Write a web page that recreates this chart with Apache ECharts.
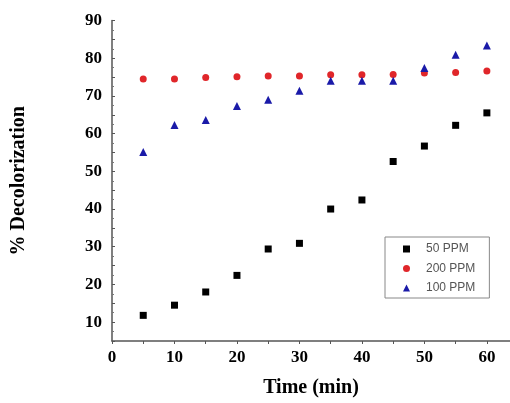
<!DOCTYPE html>
<html><head><meta charset="utf-8">
<script src="https://cdn.jsdelivr.net/npm/echarts@6/dist/echarts.min.js"></script>
<style>html,body{margin:0;padding:0;background:#fff}#c{width:510px;height:403px}</style>
</head><body><div id="c"></div>
<script>
const times = [5, 10, 15, 20, 25, 30, 35, 40, 45, 50, 55, 60];
const ppm50 = [11.8, 14.5, 18.0, 22.4, 29.4, 30.9, 40.0, 42.4, 52.6, 56.7, 62.2, 65.5];
const ppm200 = [74.5, 74.5, 74.9, 75.1, 75.3, 75.3, 75.6, 75.6, 75.7, 76.1, 76.2, 76.6];
const ppm100 = [55.1, 62.3, 63.6, 67.3, 69.0, 71.4, 74.0, 74.0, 74.0, 77.4, 80.9, 83.4];
const seriesNames = ['50 PPM', '200 PPM', '100 PPM'];
const xLabels = [0, 10, 20, 30, 40, 50, 60];
const yLabels = [10, 20, 30, 40, 50, 60, 70, 80, 90];

const pair = v => times.map((t, i) => [t, v[i]]);
const serif = '"Liberation Serif", "Times New Roman", serif';
const chart = echarts.init(document.getElementById('c'));
chart.setOption({
  animation: false,
  backgroundColor: '#fff',
  grid: { left: 112, right: 0, top: 20.5, bottom: 60, containLabel: false },
  legend: {
    left: 385, top: 237, orient: 'vertical',
    padding: [5, 14, 3, 18],
    borderColor: '#888', borderWidth: 1,
    itemWidth: 7, itemHeight: 7, itemGap: 5.5,
    textStyle: { fontFamily: '"Liberation Sans", Arial, sans-serif', fontSize: 12, color: '#555', lineHeight: 14, padding: [0, 0, 0, 11] },
    data: [
      { name: seriesNames[0], icon: 'rect', itemStyle: { opacity: 1 } },
      { name: seriesNames[1], icon: 'circle', itemStyle: { opacity: 1 } },
      { name: seriesNames[2], icon: 'triangle', itemStyle: { opacity: 1 } }
    ]
  },
  xAxis: {
    type: 'value', min: 0, max: 63.7, interval: 5,
    name: 'Time (min)', nameLocation: 'middle', nameGap: 37,
    nameTextStyle: { fontFamily: serif, fontWeight: 'bold', fontSize: 20, color: '#000' },
    axisLine: { onZero: false, lineStyle: { color: '#555', width: 1.5 } },
    axisTick: { show: true, length: 3, lineStyle: { color: '#555' } },
    splitLine: { show: false },
    axisLabel: {
      showMaxLabel: false, margin: 8,
      fontFamily: serif, fontWeight: 'bold', fontSize: 17, color: '#000',
      formatter: v => xLabels.includes(v) ? String(v) : ''
    }
  },
  yAxis: {
    type: 'value', min: 5, max: 90, interval: 5,
    name: '% Decolorization', nameLocation: 'middle', nameGap: 83, nameRotate: 90,
    nameTextStyle: { fontFamily: serif, fontWeight: 'bold', fontSize: 20, color: '#000' },
    axisLine: { onZero: false, lineStyle: { color: '#555', width: 1.5 } },
    axisTick: { show: true, inside: true, length: 3, lineStyle: { color: '#555' } },
    minorTick: { show: true, splitNumber: 2, length: 2, lineStyle: { color: '#777' } },
    splitLine: { show: false },
    axisLabel: {
      margin: 10,
      fontFamily: serif, fontWeight: 'bold', fontSize: 17, color: '#000',
      formatter: v => yLabels.includes(v) ? String(v) : ''
    }
  },
  series: [
    { name: seriesNames[0], type: 'scatter', symbol: 'rect', symbolSize: 7,
      itemStyle: { color: '#000', opacity: 1 }, data: pair(ppm50), z: 3 },
    { name: seriesNames[1], type: 'scatter', symbol: 'circle', symbolSize: 7,
      itemStyle: { color: '#e0262a', opacity: 1 }, data: pair(ppm200), z: 2 },
    { name: seriesNames[2], type: 'scatter', symbol: 'triangle', symbolSize: 8,
      itemStyle: { color: '#1a1aa8', opacity: 1 }, data: pair(ppm100), z: 4 }
  ]
});
</script></body></html>
